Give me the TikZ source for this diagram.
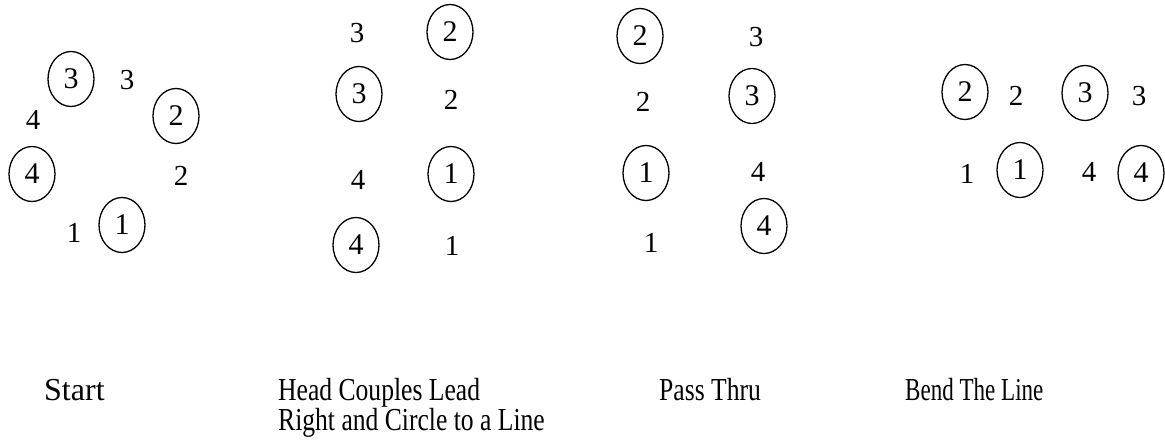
\documentclass[tikz,border=0pt]{standalone}
\usepackage{fontspec}
\setmainfont{Liberation Serif}
\usetikzlibrary{shapes.geometric}
\tikzset{
  x=1pt, y=-1pt,
  dancer/.style={draw, line width=1.3pt, ellipse, minimum width=46pt, minimum height=55pt,
    inner sep=0pt, font=\fontsize{30}{34}\selectfont},
  spot/.style={inner sep=0pt, font=\fontsize{29}{33}\selectfont},
  caption/.style={inner sep=0pt, anchor=base west, font=\fontsize{32}{36}\selectfont},
}
\newcommand{\tight}[2][0.8]{\scalebox{#1}[1]{#2}}
\begin{document}
\begin{tikzpicture}
\useasboundingbox (0,0) rectangle (1165,444);

% Start: squared set
\node[dancer] (a3) at (71,79)  {3};
\node[spot]   (b3) at (127,80) {3};
\node[dancer] (a2) at (176,116) {2};
\node[spot]   (b4) at (33,120) {4};
\node[dancer] (a4) at (32,174) {4};
\node[spot]   (b2) at (181,176) {2};
\node[spot]   (b1) at (74,233) {1};
\node[dancer] (a1) at (122,225) {1};

% Head couples lead right and circle to a line
\node[spot]   (d3) at (357,33)  {3};
\node[dancer] (c2) at (450,32)  {2};
\node[dancer] (c3) at (359,94)  {3};
\node[spot]   (d2) at (451,100) {2};
\node[spot]   (d4) at (358,180) {4};
\node[dancer] (c1) at (451,174) {1};
\node[dancer] (c4) at (356,245) {4};
\node[spot]   (d1) at (452,246) {1};

% Pass thru
\node[dancer] (e2) at (640,36)  {2};
\node[spot]   (f3) at (756,37)  {3};
\node[spot]   (f2) at (643,102) {2};
\node[dancer] (e3) at (752,96)  {3};
\node[dancer] (e1) at (646,173) {1};
\node[spot]   (f4) at (758,172) {4};
\node[spot]   (f1) at (651,243) {1};
\node[dancer] (e4) at (764,226) {4};

% Bend the line
\node[dancer] (g2) at (965,92)   {2};
\node[spot]   (h2) at (1016,96)  {2};
\node[dancer] (g3) at (1085,93)  {3};
\node[spot]   (h3) at (1139,96)  {3};
\node[spot]   (h1) at (967,174)  {1};
\node[dancer] (g1) at (1020,170) {1};
\node[spot]   (h4) at (1089,172) {4};
\node[dancer] (g4) at (1141,173) {4};

% Captions
\node[caption] (s1) at (44,400)  {Start};
\node[caption] (s2) at (278,400) {\tight{Head Couples Lead}};
\node[caption] (s2b) at (278,430) {\tight{Right and Circle to a Line}};
\node[caption] (s3) at (659,400) {\tight{Pass Thru}};
\node[caption] (s4) at (905,400) {\tight[0.72]{Bend The Line}};
\end{tikzpicture}
\end{document}
